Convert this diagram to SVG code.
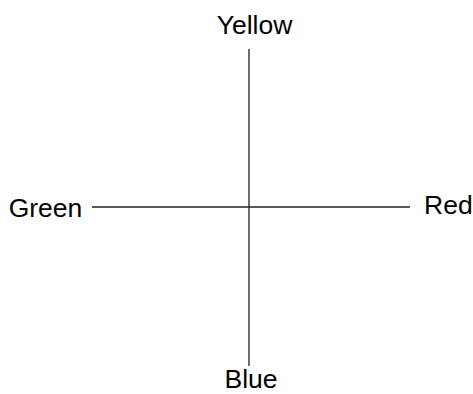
<svg xmlns="http://www.w3.org/2000/svg" width="473" height="394" viewBox="0 0 473 394">
<style>
.lbl{font-family:"Liberation Sans",Arial,sans-serif;font-size:26.5px;fill:#000}
.ax{stroke:#222;stroke-width:1.3;fill:none}
</style>
<rect width="473" height="394" fill="#fff"/>
<g id="connectors">
<line class="ax" x1="249" y1="49" x2="249" y2="366"/>
<line class="ax" x1="92" y1="207" x2="410" y2="207"/>
</g>
<g id="yellow"><text class="lbl" x="254.5" y="33.5" text-anchor="middle">Yellow</text></g>
<g id="green"><text class="lbl" x="8.7" y="217.3">Green</text></g>
<g id="red"><text class="lbl" x="424" y="214">Red</text></g>
<g id="blue"><text class="lbl" x="251" y="388" text-anchor="middle">Blue</text></g>
</svg>
